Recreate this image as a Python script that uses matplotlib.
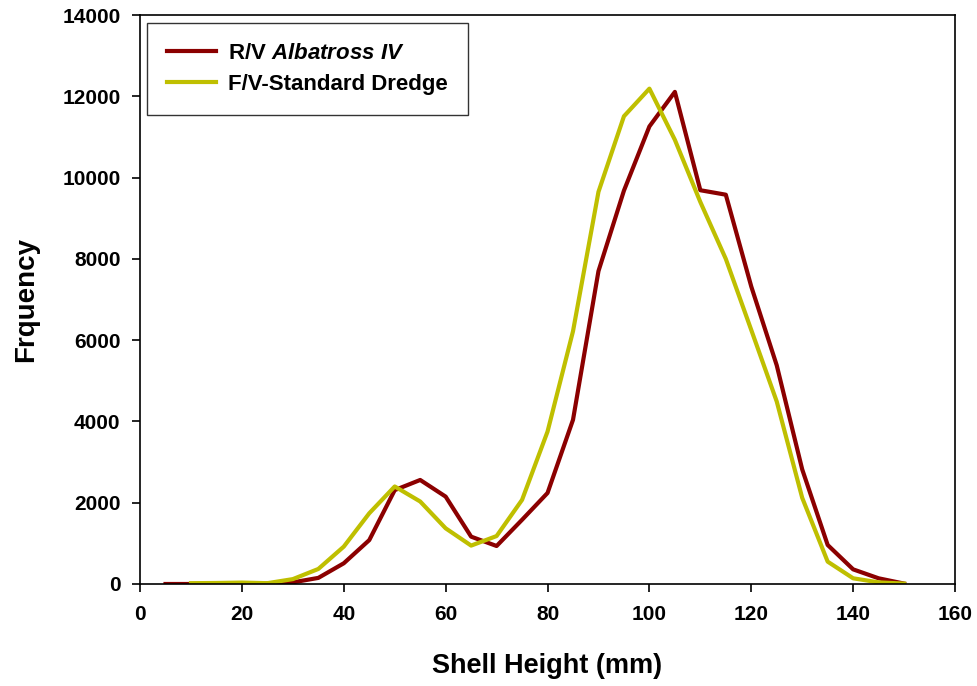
#!/usr/bin/env python3
"""Shell height frequency: R/V Albatross IV vs F/V standard dredge."""
import matplotlib
matplotlib.use("Agg")
import matplotlib.pyplot as plt

plt.rcParams.update({
    "font.family": "Liberation Sans", "font.weight": "bold",
    "mathtext.fontset": "custom", "mathtext.it": "Liberation Sans:italic:bold",
    "mathtext.rm": "Liberation Sans:bold",
})

RED = "#8B0000"; YEL = "#BFBF00"

# shell height bins (mm) and frequencies
red_x = [5, 10, 15, 20, 25, 30, 35, 40, 45, 50, 55, 60, 65, 70, 75, 80, 85, 90,
         95, 100, 105, 110, 115, 120, 125, 130, 135, 140, 145, 150]
red_y = [0, 0, 5, 10, 10, 40, 150, 510, 1080, 2310, 2560, 2150, 1165, 935, 1580, 2240,
         4040, 7700, 9680, 11260, 12110, 9690, 9580, 7320, 5380, 2820, 960, 360, 140, 10]
yel_x = [10, 15, 20, 25, 30, 35, 40, 45, 50, 55, 60, 65, 70, 75, 80, 85, 90, 95,
         100, 105, 110, 115, 120, 125, 130, 135, 140, 145, 150]
yel_y = [20, 25, 35, 20, 120, 370, 920, 1740, 2400, 2030, 1370, 945, 1180, 2070, 3750,
         6220, 9650, 11510, 12190, 10930, 9400, 8000, 6250, 4490, 2120, 550, 140, 40, 10]

fig = plt.figure(figsize=(9.78, 6.86), dpi=100)
ax = fig.add_axes([0.1432, 0.1487, 0.8333, 0.8293])
ax.plot(red_x, red_y, color=RED, lw=3, label=r"R/V $\mathit{Albatross\ IV}$")
ax.plot(yel_x, yel_y, color=YEL, lw=3, label="F/V-Standard Dredge")

ax.set_xlim(0, 160); ax.set_ylim(0, 14000)
ax.set_xticks(range(0, 161, 20)); ax.set_yticks(range(0, 14001, 2000))
ax.tick_params(direction="out", length=6, width=1.2, labelsize=15)
ax.tick_params(axis="x", pad=9)
ax.tick_params(axis="y", pad=8)
for s in ax.spines.values():
    s.set_linewidth(1.2)
ax.set_xlabel("Shell Height (mm)", fontsize=19.5, fontweight="bold", labelpad=21)
ax.set_ylabel("Frquency", fontsize=20, fontweight="bold", labelpad=17)

leg = ax.legend(loc="upper left", bbox_to_anchor=(0.0086, 0.986), borderaxespad=0,
                fancybox=False, edgecolor="black", fontsize=16, handlelength=2.2,
                borderpad=0.9, labelspacing=0.45, handletextpad=0.54)
leg.get_frame().set_linewidth(1.0)

fig.savefig("out.png", dpi=100)
